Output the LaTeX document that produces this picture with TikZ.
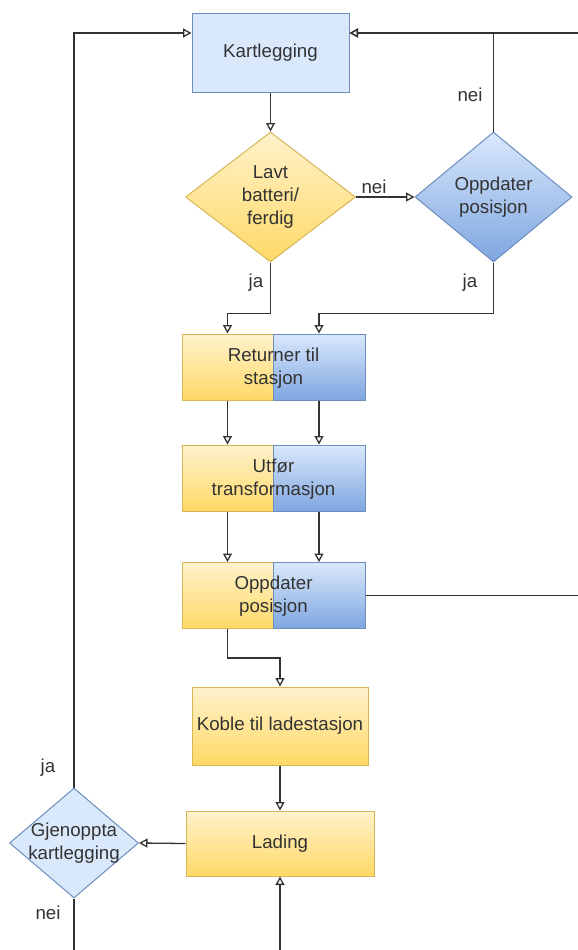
\documentclass[tikz,border=0pt]{standalone}
\usepackage{fontspec}
\setmainfont{Liberation Sans}
\usetikzlibrary{arrows.meta,shapes.geometric}
\definecolor{lblue}{HTML}{DAE8FC}
\definecolor{bluedge}{HTML}{6C8EBF}
\definecolor{dblue}{HTML}{7EA6E0}
\definecolor{lyellow}{HTML}{FFF2CC}
\definecolor{dyellow}{HTML}{FFD966}
\definecolor{yedge}{HTML}{D6B656}
\definecolor{ink}{HTML}{333333}

\begin{document}
\begin{tikzpicture}[x=1pt,y=-1pt,
  every node/.style={font=\fontsize{18.7}{23}\selectfont, text=ink},
  box/.style={rectangle, inner sep=0pt, line width=1pt},
  flatblue/.style={box, fill=lblue, draw=bluedge},
  yellowbox/.style={box, draw=yedge, top color=lyellow, bottom color=dyellow},
  bluebox/.style={box, draw=bluedge, top color=lblue, bottom color=dblue},
  decision/.style={diamond, inner sep=0pt, line width=1pt, align=center},
  caption/.style={align=center},
  flow/.style={draw=ink, line width=1.3pt, -{Triangle[open, length=8.5pt, width=9pt]}},
  wire/.style={draw=ink, line width=1.3pt},
]
\useasboundingbox (0,0) rectangle (578,950);

% main mapping step and the two decisions
\node[flatblue, minimum width=157pt, minimum height=78pt] (map) at (270.5,53) {Kartlegging};
\node[decision, draw=yedge, top color=lyellow, bottom color=dyellow,
      minimum width=170pt, minimum height=130pt] (low) at (270.5,197) {Lavt\\batteri/\\ferdig};
\node[decision, draw=bluedge, top color=lblue, bottom color=dblue,
      minimum width=157pt, minimum height=130pt] (upd) at (493.5,197) {Oppdater\\posisjon};

% shared steps: yellow half and blue half
\node[yellowbox, minimum width=91pt, minimum height=66pt] (retL) at (227.5,367) {};
\node[bluebox, minimum width=92pt, minimum height=66pt] (retR) at (319,367) {};
\node[caption] (ret) at (273.5,368) {Returner til\\stasjon};

\node[yellowbox, minimum width=91pt, minimum height=66pt] (trL) at (227.5,478) {};
\node[bluebox, minimum width=92pt, minimum height=66pt] (trR) at (319,478) {};
\node[caption] (tr) at (273.5,479) {Utfør\\transformasjon};

\node[yellowbox, minimum width=91pt, minimum height=66pt] (posL) at (227.5,595.5) {};
\node[bluebox, minimum width=92pt, minimum height=66pt] (posR) at (319,595.5) {};
\node[caption] (pos) at (273.5,596.5) {Oppdater\\posisjon};

% charging steps
\node[yellowbox, minimum width=176pt, minimum height=78pt] (dock) at (280,726) {Koble til ladestasjon};
\node[yellowbox, minimum width=188pt, minimum height=65pt] (charge) at (280,843.5) {Lading};
\node[decision, fill=lblue, draw=bluedge, minimum width=129pt, minimum height=110pt,
      label={[align=center]center:Gjenoppta\\kartlegging}] (resume) at (74,843) {};

% free ends at the picture border
\coordinate (edgeTop) at (578,33);
\coordinate (edgeMid) at (578,595.5);
\coordinate (edgeBot) at (280,950);
\coordinate (edgeLeft) at (74,950);

% connectors
\draw[flow] (map.south) -- (low.north);
\draw[flow] (low.east) -- (upd.west);
\draw[flow] (upd.north) |- ([yshift=20pt]map.east);
\draw[flow] (edgeTop) -- ([yshift=20pt]map.east);
\draw[flow] (low.south) -- ++(0,51) -| (retL.north);
\draw[flow] (upd.south) -- ++(0,51) -| (retR.north);
\draw[flow] (retL.south) -- (trL.north);
\draw[flow] (retR.south) -- (trR.north);
\draw[flow] (trL.south) -- (posL.north);
\draw[flow] (trR.south) -- (posR.north);
\draw[wire] (posR.east) -- (edgeMid);
\draw[flow] (posL.south) -- ++(0,29) -| (dock.north);
\draw[flow] (dock.south) -- (charge.north);
\draw[flow] (edgeBot) -- (charge.south);
\draw[flow] (charge.west) -- (resume.east);
\draw[flow] (resume.north) |- ([yshift=20pt]map.west);
\draw[wire] (resume.south) -- (edgeLeft);

% branch labels
\node (lblNeiMid) at (374,187) {nei};
\node (lblNeiTop) at (470,95) {nei};
\node (lblJaLeft) at (256,283) {ja};
\node (lblJaRight) at (470,283) {ja};
\node (lblJaResume) at (48,768) {ja};
\node (lblNeiResume) at (48,913) {nei};
\end{tikzpicture}
\end{document}
